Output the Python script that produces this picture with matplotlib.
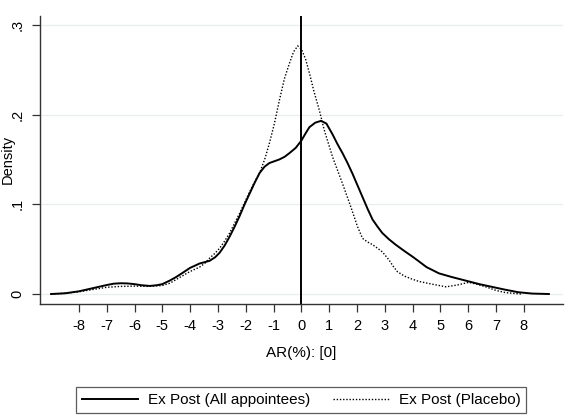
import matplotlib
matplotlib.use("Agg")
import matplotlib.pyplot as plt

plt.rcParams['font.family'] = ['Liberation Sans', 'DejaVu Sans']

# ---- data ----
# Ex Post (All appointees) - solid
x_all = [-9.0, -8.5, -8.0, -7.5, -7.0, -6.75, -6.5, -6.25, -6.0, -5.75, -5.45, -5.2,
         -5.0, -4.73, -4.5, -4.25, -4.01, -3.66, -3.3, -3.1, -2.94, -2.76, -2.58,
         -2.4, -2.22, -2.04, -1.86, -1.68, -1.5, -1.32, -1.15, -0.97, -0.79, -0.6,
         -0.43, -0.2, 0.0, 0.15, 0.29, 0.5, 0.71, 0.9, 1.12, 1.3, 1.48, 1.66, 1.84,
         2.02, 2.2, 2.38, 2.56, 2.74, 2.91, 3.15, 3.39, 3.7, 3.98, 4.2, 4.5, 4.95,
         5.4, 5.9, 6.4, 6.85, 7.3, 7.8, 8.3, 8.9]
y_all = [0.0, 0.0008, 0.003, 0.0065, 0.010, 0.0115, 0.012, 0.0118, 0.011, 0.0098, 0.009, 0.0098,
         0.011, 0.015, 0.019, 0.024, 0.029, 0.034, 0.037, 0.041, 0.046, 0.054, 0.064,
         0.075, 0.087, 0.100, 0.112, 0.124, 0.135, 0.142, 0.146, 0.148, 0.150, 0.153,
         0.157, 0.163, 0.171, 0.179, 0.186, 0.191, 0.193, 0.190, 0.178, 0.167, 0.157, 0.146, 0.134,
         0.121, 0.108, 0.095, 0.083, 0.075, 0.068, 0.061, 0.055, 0.048, 0.042, 0.037, 0.030, 0.023,
         0.019, 0.015, 0.011, 0.008, 0.005, 0.002, 0.0005, 0.0]

# Ex Post (Placebo) - dotted
x_plc = [-9.0, -8.5, -8.0, -7.5, -7.0, -6.5, -6.0, -5.5, -5.0, -4.73, -4.4, -4.01,
         -3.66, -3.48, -3.3, -3.12, -2.94, -2.76, -2.58, -2.4, -2.22, -2.04, -1.86,
         -1.68, -1.5, -1.32, -1.15, -0.97, -0.79, -0.61, -0.43, -0.28, -0.13, 0.0,
         0.15, 0.3, 0.45, 0.645, 0.82, 0.97, 1.12, 1.3, 1.48, 1.63, 1.78, 1.9, 2.02,
         2.2, 2.38, 2.56, 2.74, 2.91, 3.15, 3.3, 3.45, 3.7, 3.95, 4.23, 4.7, 5.2,
         5.6, 6.02, 6.3, 6.63, 7.0, 7.35, 7.9]
y_plc = [0.0, 0.0008, 0.0025, 0.005, 0.0075, 0.0085, 0.0088, 0.0085, 0.0095, 0.012, 0.018, 0.025,
         0.030, 0.034, 0.040, 0.045, 0.051, 0.059, 0.068, 0.079, 0.090, 0.102, 0.114,
         0.125, 0.135, 0.150, 0.168, 0.190, 0.216, 0.240, 0.257, 0.270, 0.2765, 0.273,
         0.262, 0.245, 0.226, 0.205, 0.183, 0.168, 0.153, 0.138, 0.123, 0.110, 0.097, 0.086, 0.075,
         0.062, 0.058, 0.055, 0.051, 0.047, 0.038, 0.031, 0.025, 0.020, 0.017, 0.014, 0.011, 0.008,
         0.010, 0.013, 0.011, 0.008, 0.004, 0.0015, 0.0]

x_ticks = list(range(-8, 9))
y_ticks = [0, 0.1, 0.2, 0.3]
y_tick_labels = ["0", ".1", ".2", ".3"]

# ---- figure ----
fig = plt.figure(figsize=(5.79, 4.18), dpi=100)
ax = fig.add_axes([0.069, 0.273, 0.903, 0.689])

for y in y_ticks:
    ax.axhline(y, color="#e8eef0", lw=0.9, zorder=0)

ax.plot(x_all, y_all, color="black", lw=1.4, label="Ex Post (All appointees)")
ax.plot(x_plc, y_plc, color="black", lw=1.0, linestyle=(0, (1, 1.3)),
        label="Ex Post (Placebo)")
ax.axvline(0, color="black", lw=1.4)

ax.set_xlim(-9.4, 9.4)
ax.set_ylim(-0.011, 0.31)
ax.set_xticks(x_ticks)
ax.set_xticklabels([str(t) for t in x_ticks])
ax.set_yticks(y_ticks)
ax.set_yticklabels(y_tick_labels, rotation=90, va="center")

for s in ["top", "right"]:
    ax.spines[s].set_visible(False)
for s in ["left", "bottom"]:
    ax.spines[s].set_color("#333333")
    ax.spines[s].set_linewidth(1.0)
ax.tick_params(direction="out", length=6, width=0.9, color="#333333",
               labelsize=10.5, pad=5)

ax.set_xlabel("AR(%): [0]", fontsize=11, labelpad=9)
ax.set_ylabel("Density", fontsize=10.5)
ax.yaxis.set_label_coords(-0.048, 0.5)

leg = fig.legend(loc="center", bbox_to_anchor=(0.52, 0.043), ncol=2,
                 fontsize=11, frameon=True, fancybox=False,
                 handlelength=3.66, handletextpad=0.65, columnspacing=1.5,
                 borderpad=0.4)
leg.get_frame().set_edgecolor("#333333")
leg.get_frame().set_linewidth(0.9)

fig.savefig("out.png", dpi=100)
